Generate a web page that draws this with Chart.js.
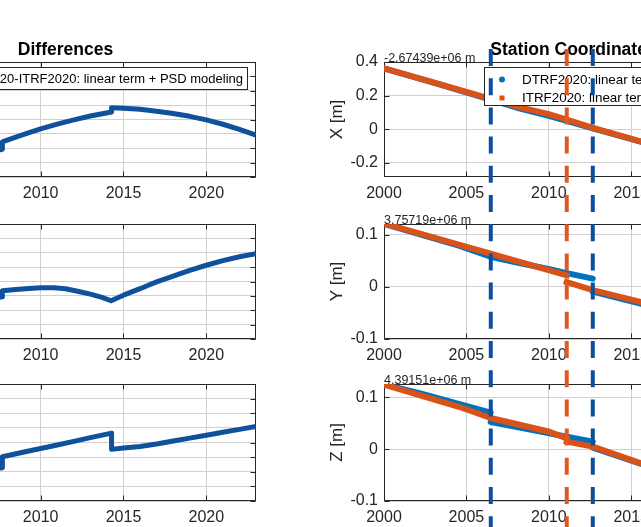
<!DOCTYPE html>
<html><head><meta charset="utf-8">
<script src="https://cdn.jsdelivr.net/npm/chart.js@4.4.1/dist/chart.umd.min.js"></script>
<style>
html,body{margin:0;padding:0;background:#fff;overflow:hidden;}
#fig{position:relative;width:641px;height:527px;overflow:hidden;background:#fff;}
#fig canvas{position:absolute;}
</style></head><body><div id="fig"></div>
<script>
// ================= DATA =================
const yearRange = [2000, 2023];
const yearTicks = [2000, 2005, 2010, 2015, 2020];

// Left column: DTRF2020-ITRF2020 differences (mm)
const diffTicks = [-4, -3, -2, -1, 0, 1, 2, 3, 4];
const diff1Years = [2007.2, 2007.69, 2007.69, 2008.5, 2009.3, 2010, 2011, 2012, 2013, 2014.28, 2014.28, 2015, 2016, 2017, 2018, 2019, 2020, 2021, 2022, 2023];
const diff1Vals  = [-2.20, -2.07, -1.55, -1.22, -0.92, -0.65, -0.32, -0.03, 0.24, 0.52, 0.82, 0.78, 0.72, 0.58, 0.42, 0.22, -0.03, -0.33, -0.68, -1.08];
const diff2Years = [2007.2, 2007.69, 2007.69, 2008.5, 2009.3, 2010, 2010.8, 2011.5, 2012.3, 2013, 2013.7, 2014.25, 2015, 2016, 2016.5, 2017, 2018, 2019, 2020, 2021, 2022, 2023];
const diff2Vals  = [-1.15, -1.07, -0.65, -0.55, -0.48, -0.44, -0.43, -0.50, -0.70, -0.88, -1.10, -1.34, -0.95, -0.50, -0.26, -0.03, 0.37, 0.77, 1.13, 1.45, 1.72, 1.94];
const diff3Years = [2007.2, 2007.69, 2007.69, 2009, 2010, 2011, 2012, 2013, 2014.28, 2014.28, 2015, 2016, 2017, 2018, 2019, 2020, 2021, 2022, 2023];
const diff3Vals  = [-1.80, -1.73, -0.97, -0.65, -0.41, -0.17, 0.08, 0.33, 0.64, -0.47, -0.38, -0.27, -0.10, 0.10, 0.30, 0.50, 0.70, 0.90, 1.10];

// Right column: station coordinates (m, relative to offset)
const xTicksX = [-0.2, 0, 0.2, 0.4];
const xTicksYZ = [-0.1, 0, 0.1];
const X_ITRF_years = [2000, 2003, 2006.47, 2008.2, 2010, 2011.09, 2012.67, 2015.56, 2018, 2020, 2023];
const X_ITRF       = [0.362, 0.279, 0.180, 0.132, 0.090, 0.058, 0.008, -0.072, -0.138, -0.192, -0.273];
const X_DTRF_years = [2000, 2003, 2006.47, 2008.2, 2010, 2011.09, 2012.67, 2015.56, 2018, 2020, 2023];
const X_DTRF       = [0.362, 0.277, 0.176, 0.124, 0.080, 0.050, 0.006, -0.073, -0.139, -0.193, -0.274];

const Y_ITRF_years = [2000, 2004.59, 2006.47, 2010.04, 2011.09, 2011.09, 2011.09, 2012.67, 2015.56, 2018, 2020, 2023];
const Y_ITRF       = [0.122, 0.081, 0.064, 0.032, 0.0223, null, 0.0095, -0.006, -0.0286, -0.047, -0.062, -0.087];
const Y_DTRF_years = [2000, 2004.59, 2006.47, 2008, 2010.04, 2011.09, 2012.67, 2012.67, 2012.67, 2015.56, 2018, 2020, 2023];
const Y_DTRF       = [0.121, 0.079, 0.058, 0.0476, 0.034, 0.0267, 0.016, null, -0.009, -0.032, -0.050, -0.065, -0.090];

const Z_ITRF_years = [2000, 2004.59, 2006.47, 2010.04, 2011.09, 2011.09, 2011.09, 2012.67, 2015.56, 2018, 2020, 2023];
const Z_ITRF       = [0.125, 0.0815, 0.0604, 0.0337, 0.021, null, 0.0145, 0.005, -0.0267, -0.049, -0.067, -0.094];
const Z_DTRF_years = [2000, 2002.2, 2004.59, 2006.47, 2006.47, 2006.47, 2008.63, 2010.04, 2011.09, 2012.67, 2012.67, 2012.67, 2015.56, 2018, 2020, 2023];
const Z_DTRF       = [0.125, 0.108, 0.087, 0.0707, null, 0.0527, 0.0394, 0.0307, 0.0242, 0.0145, null, 0.003, -0.028, -0.050, -0.068, -0.095];

// Event epochs (vertical dashed lines)
const eventYears_DTRF = [2006.48, 2012.67];
const eventYears_ITRF = [2011.09];

// Texts
const titleLeft = 'Differences';
const titleRight = 'Station Coordinates';
const legendLeft = 'DTRF2020-ITRF2020: linear term + PSD modeling';
const legendRight = ['DTRF2020: linear term + PSD modeling', 'ITRF2020: linear term + PSD modeling'];
const offsetLabels = ['-2.67439e+06 m', '3.75719e+06 m', '4.39151e+06 m'];
const coordNames = ['X [m]', 'Y [m]', 'Z [m]'];

// ================= STYLE =================
const FONT = "'Liberation Sans', Arial, Helvetica, sans-serif";
const TXT = '#262626', GRID = '#d0d0d0';
const C_DIFF = '#10519b', C_DTRF = '#0072bd', C_ITRF = '#d95319';
const C_VBLUE = '#0c4f9c', C_VORANGE = '#df5a22';
const YW = 80, XH = 40, PT = 40, PR = 20;
const fig = document.getElementById('fig');

const pts = (xs, ys) => xs.map((x, i) => ({x: x, y: ys[i]}));

const decor = {
  id: 'decor',
  beforeDatasetsDraw(chart, args, o) {
    if (o.noBox) return;
    const {ctx, chartArea: a} = chart;
    const xs = chart.scales.x, ys = chart.scales.y;
    ctx.save();
    ctx.strokeStyle = TXT; ctx.lineWidth = 1;
    const L = Math.round(a.left) + 0.5, T = Math.round(a.top) + 0.5, R = Math.round(a.right) - 0.5, B = Math.round(a.bottom) - 0.5;
    ctx.strokeRect(L, T, R - L, B - T);
    ctx.beginPath();
    xs.ticks.forEach(t => { const p = Math.round(xs.getPixelForValue(t.value)) + 0.5;
      ctx.moveTo(p, B); ctx.lineTo(p, B - 5); ctx.moveTo(p, T); ctx.lineTo(p, T + 5); });
    ys.ticks.forEach(t => { const p = Math.round(ys.getPixelForValue(t.value)) + 0.5;
      ctx.moveTo(L, p); ctx.lineTo(L + 5, p); ctx.moveTo(R, p); ctx.lineTo(R - 5, p); });
    ctx.stroke();
    ctx.restore();
  },
  afterDatasetsDraw(chart, args, o) {
    const {ctx, chartArea: a} = chart;
    ctx.save();
    if (o.legendR) {
      const bx = Math.round(a.left) + 100, by = Math.round(a.top) + 5, bw = Math.round(a.right) - 9 - bx, bh = 38;
      ctx.fillStyle = '#fff'; ctx.fillRect(bx, by, bw, bh);
      ctx.strokeStyle = '#262626'; ctx.lineWidth = 1; ctx.strokeRect(bx + 0.5, by + 0.5, bw, bh);
      ctx.fillStyle = C_DTRF; ctx.beginPath(); ctx.arc(bx + 18, by + 12.5, 3, 0, Math.PI * 2); ctx.fill();
      ctx.fillStyle = C_ITRF; ctx.fillRect(bx + 15.5, by + 28.5, 5, 5);
      ctx.fillStyle = '#000'; ctx.font = '13.4px ' + FONT; ctx.textAlign = 'left'; ctx.textBaseline = 'middle';
      ctx.fillText(o.legendR[0], bx + 38, by + 13);
      ctx.fillText(o.legendR[1], bx + 38, by + 31);
    }
    if (o.legendL) {
      ctx.font = '13px ' + FONT;
      const tw = ctx.measureText(o.legendL).width;
      const br = Math.round(a.right) - 9, by = Math.round(a.top) + 5, bh = 22;
      const tl = br - 4 - tw, bl = tl - 40;
      ctx.fillStyle = '#fff'; ctx.fillRect(bl, by, br - bl, bh);
      ctx.strokeStyle = '#262626'; ctx.lineWidth = 1; ctx.strokeRect(bl + 0.5, by + 0.5, br - bl, bh);
      ctx.strokeStyle = C_DIFF; ctx.lineWidth = 5; ctx.beginPath(); ctx.moveTo(bl + 6, by + 11.5); ctx.lineTo(bl + 34, by + 11.5); ctx.stroke();
      ctx.fillStyle = '#000'; ctx.textAlign = 'left'; ctx.textBaseline = 'middle';
      ctx.fillText(o.legendL, tl, by + 12);
    }
    ctx.restore();
  },
  afterDraw(chart, args, o) {
    const {ctx, chartArea: a} = chart;
    ctx.save();
    if (o.title) {
      ctx.font = 'bold 17.5px ' + FONT; ctx.fillStyle = '#000'; ctx.textAlign = 'center'; ctx.textBaseline = 'alphabetic';
      ctx.fillText(o.title, (a.left + a.right) / 2, a.top - 7);
    }
    if (o.offset) {
      ctx.font = '12.5px ' + FONT; ctx.fillStyle = TXT; ctx.textAlign = 'left'; ctx.textBaseline = 'alphabetic';
      ctx.fillText(o.offset, a.left, a.top - 0.5);
    }
    if (o.yTitle) {
      ctx.translate(a.left - 47, (a.top + a.bottom) / 2); ctx.rotate(-Math.PI / 2);
      ctx.font = '17px ' + FONT; ctx.fillStyle = TXT; ctx.textAlign = 'center'; ctx.textBaseline = 'middle';
      ctx.fillText(o.yTitle, 0, 0);
    }
    ctx.restore();
  }
};

function makePanel(rect, cfg) {
  const c = document.createElement('canvas');
  const w = rect.r - rect.l + YW + PR, h = rect.b - rect.t + PT + XH;
  c.width = w; c.height = h;
  c.style.left = (rect.l - YW) + 'px'; c.style.top = (rect.t - PT) + 'px';
  c.style.width = w + 'px'; c.style.height = h + 'px';
  fig.appendChild(c);
  return new Chart(c, {
    type: 'line',
    data: {datasets: cfg.datasets || []},
    options: {
      responsive: false, animation: false, devicePixelRatio: 1,
      layout: {padding: {top: PT, right: PR, left: 0, bottom: 0}},
      plugins: {legend: {display: false}, tooltip: {enabled: false}, decor: cfg.decor || {}},
      elements: {point: {radius: 0}, line: {tension: 0}},
      scales: {
        x: {type: 'linear', min: yearRange[0], max: yearRange[1],
          afterBuildTicks: s => { s.ticks = yearTicks.map(v => ({value: v})); },
          afterFit: s => { s.height = XH; },
          grid: {color: GRID, lineWidth: 1, drawTicks: false}, border: {display: false},
          ticks: {display: true, color: TXT, font: {family: FONT, size: 16}, padding: 7, maxRotation: 0, autoSkip: false, callback: v => String(v)}},
        y: {type: 'linear', min: cfg.yMin, max: cfg.yMax,
          afterBuildTicks: s => { s.ticks = cfg.yTicks.map(v => ({value: v})); },
          afterFit: s => { s.width = YW; },
          grid: {color: GRID, lineWidth: 1, drawTicks: false}, border: {display: false},
          ticks: {display: cfg.yLabels !== false, autoSkip: false, color: TXT, font: {family: FONT, size: 16}, padding: 6, callback: v => String(Math.round(v * 100) / 100)}}
      }
    },
    plugins: [decor]
  });
}

const diffDS = (xs, ys) => [{data: pts(xs, ys), borderColor: C_DIFF, borderWidth: 5, borderJoinStyle: 'round'}];
const coordDS = (xi, yi, xd, yd) => [
  {data: pts(xi, yi), borderColor: C_ITRF, borderWidth: 6, borderCapStyle: 'square', borderJoinStyle: 'round'},
  {data: pts(xd, yd), borderColor: C_DTRF, borderWidth: 6, borderCapStyle: 'round', borderJoinStyle: 'round'}
];

const LC = {l: -125, r: 256}, RC = {l: 384, r: 763};
const rows = [{t: 62, b: 177}, {t: 224, b: 339}, {t: 384, b: 501}];

// partial row above (only bottom of tick labels visible)
makePanel({l: LC.l, r: LC.r, t: -140, b: -21}, {yMin: 0, yMax: 1, yTicks: [], yLabels: false});
makePanel({l: RC.l, r: RC.r, t: -140, b: -21}, {yMin: 0, yMax: 1, yTicks: [], yLabels: false});

// left column
makePanel({...LC, ...rows[0]}, {yMin: -4, yMax: 4, yTicks: diffTicks, datasets: diffDS(diff1Years, diff1Vals), decor: {title: titleLeft, legendL: legendLeft}});
makePanel({...LC, ...rows[1]}, {yMin: -4, yMax: 4, yTicks: diffTicks, datasets: diffDS(diff2Years, diff2Vals)});
makePanel({...LC, ...rows[2]}, {yMin: -4, yMax: 4, yTicks: diffTicks, datasets: diffDS(diff3Years, diff3Vals)});

// right column
makePanel({...RC, ...rows[0]}, {yMin: -0.284, yMax: 0.4, yTicks: xTicksX, datasets: coordDS(X_ITRF_years, X_ITRF, X_DTRF_years, X_DTRF),
  decor: {title: titleRight, offset: offsetLabels[0], yTitle: coordNames[0], legendR: legendRight}});
makePanel({...RC, ...rows[1]}, {yMin: -0.1, yMax: 0.121, yTicks: xTicksYZ, datasets: coordDS(Y_ITRF_years, Y_ITRF, Y_DTRF_years, Y_DTRF),
  decor: {offset: offsetLabels[1], yTitle: coordNames[1]}});
makePanel({...RC, ...rows[2]}, {yMin: -0.1, yMax: 0.126, yTicks: xTicksYZ, datasets: coordDS(Z_ITRF_years, Z_ITRF, Z_DTRF_years, Z_DTRF),
  decor: {offset: offsetLabels[2], yTitle: coordNames[2]}});

// overlay with event lines across right column
(function () {
  const c = document.createElement('canvas');
  const top = 49, w = RC.r - RC.l, h = 527 - top;
  c.width = w; c.height = h;
  c.style.left = RC.l + 'px'; c.style.top = top + 'px'; c.style.width = w + 'px'; c.style.height = h + 'px';
  fig.appendChild(c);
  const vline = (yr, col) => ({data: [{x: yr, y: 1}, {x: yr, y: 0}], borderColor: col, borderWidth: 4, borderDash: [17, 12.2], clip: false});
  const ds = eventYears_DTRF.map(y => vline(y, C_VBLUE)).concat(eventYears_ITRF.map(y => vline(y, C_VORANGE)));
  new Chart(c, {
    type: 'line', data: {datasets: ds},
    options: {responsive: false, animation: false, devicePixelRatio: 1,
      layout: {padding: 0},
      plugins: {legend: {display: false}, tooltip: {enabled: false}},
      elements: {point: {radius: 0}},
      scales: {x: {type: 'linear', min: yearRange[0], max: yearRange[1], display: false},
               y: {type: 'linear', min: 0, max: 1, display: false}}}
  });
})();
</script></body></html>
